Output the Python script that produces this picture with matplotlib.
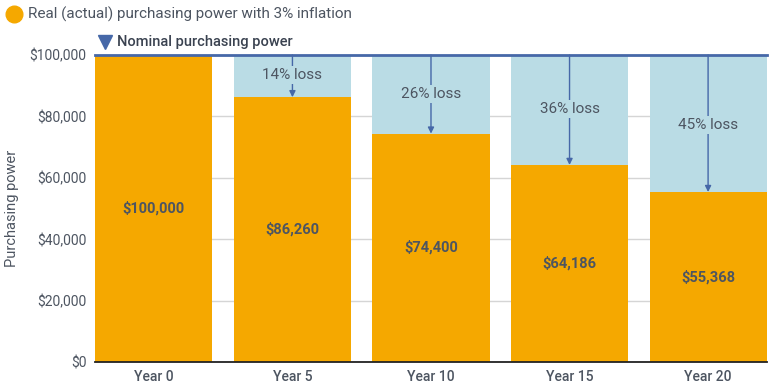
import numpy as np
import matplotlib.pyplot as plt
from matplotlib.lines import Line2D

plt.rcParams['font.family'] = ['Roboto', 'DejaVu Sans']

years = ['Year 0', 'Year 5', 'Year 10', 'Year 15', 'Year 20']
nominal = [100000, 100000, 100000, 100000, 100000]
real = [100000, 86260, 74400, 64186, 55368]
loss_labels = ['', '14% loss', '26% loss', '36% loss', '45% loss']
loss_y = [0, 93500, 87300, 82400, 77200]

orange = '#F5A800'
lightblue = '#BADCE5'
navy = '#4668A8'
grey = '#4d5561'

fig = plt.figure(figsize=(7.8, 3.88), dpi=100)
ax = fig.add_axes([0.1218, 0.067, 0.8615, 0.7912])

x = np.arange(len(years))
w = 0.845
ax.bar(x, nominal, width=w, color=lightblue, zorder=2)
ax.bar(x, real, width=w, color=orange, zorder=3)

for i in range(len(years)):
    ax.text(x[i], real[i] / 2, '${:,}'.format(real[i]), ha='center', va='center',
            fontsize=10.5, fontweight='bold', color=grey, zorder=5)
    if loss_labels[i]:
        ax.annotate('', xy=(x[i], real[i]), xytext=(x[i], nominal[i]),
                    arrowprops=dict(arrowstyle='-|>', color=navy, lw=1,
                                    mutation_scale=9, shrinkA=0, shrinkB=0),
                    zorder=4)
        ax.text(x[i], loss_y[i], loss_labels[i], ha='center', va='center',
                fontsize=11, color=grey, zorder=5,
                bbox=dict(boxstyle='square,pad=0.15', fc=lightblue, ec='none'))

ax.axhline(100000, color=navy, lw=2, zorder=6, clip_on=False)

ax.set_xlim(-0.425, 4.425)
ax.set_ylim(0, 100000)
ax.set_yticks(np.arange(0, 100001, 20000))
ax.set_yticklabels(['${:,}'.format(v) for v in range(0, 100001, 20000)])
ax.set_xticks(x)
ax.set_xticklabels(years, fontweight='medium')
ax.tick_params(length=0, labelsize=10, labelcolor=grey, pad=6)
ax.yaxis.grid(True, color='#d5d5d5', lw=1, zorder=0)
ax.set_axisbelow(True)
for s in ['top', 'right', 'left']:
    ax.spines[s].set_visible(False)
ax.spines['bottom'].set_color('#222222')
ax.spines['bottom'].set_linewidth(1.3)
ax.spines['bottom'].set_zorder(7)
ax.set_ylabel('Purchasing power', fontsize=10.5, color=grey, labelpad=8)

# legend
fig.add_artist(Line2D([14 / 780], [1 - 14 / 388], marker='o', markersize=12,
                      color=orange, transform=fig.transFigure, linestyle='none'))
fig.text(28 / 780, 1 - 14 / 388, 'Real (actual) purchasing power with 3% inflation',
         fontsize=11, color=grey, va='center')
fig.add_artist(Line2D([105 / 780], [1 - 42 / 388], marker='v', markersize=10,
                      color=navy, transform=fig.transFigure, linestyle='none'))
fig.text(117 / 780, 1 - 42 / 388, 'Nominal purchasing power',
         fontsize=10.5, color='#3a4250', va='center', fontweight='medium')

fig.savefig('out.png', dpi=100)
